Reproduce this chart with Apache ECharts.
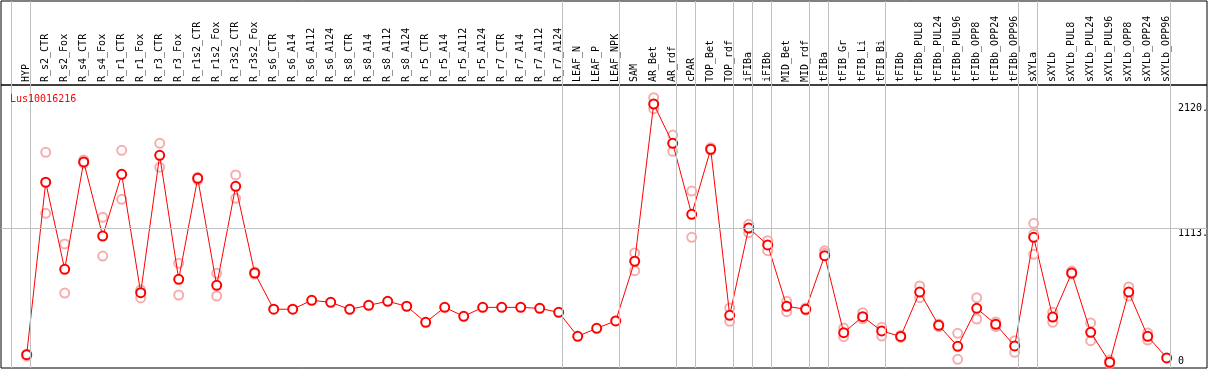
<!DOCTYPE html>
<html><head><meta charset="utf-8">
<script src="https://cdn.jsdelivr.net/npm/echarts@6/dist/echarts.min.js"></script>
<style>html,body{margin:0;padding:0;background:#fff}#c{width:1209px;height:370px}</style>
</head><body><div id="c"></div>
<script>
const geneName = 'Lus10016216';
const categories = ['HYP','R_s2_CTR','R_s2_Fox','R_s4_CTR','R_s4_Fox','R_r1_CTR','R_r1_Fox','R_r3_CTR','R_r3_Fox','R_r1s2_CTR','R_r1s2_Fox','R_r3s2_CTR','R_r3s2_Fox','R_s6_CTR','R_s6_A14','R_s6_A112','R_s6_A124','R_s8_CTR','R_s8_A14','R_s8_A112','R_s8_A124','R_r5_CTR','R_r5_A14','R_r5_A112','R_r5_A124','R_r7_CTR','R_r7_A14','R_r7_A112','R_r7_A124','LEAF_N','LEAF_P','LEAF_NPK','SAM','AR_Bet','AR_rdf','cPAR','TOP_Bet','TOP_rdf','iFIBa','iFIBb','MID_Bet','MID_rdf','tFIBa','tFIB_Gr','tFIB_Li','tFIB_Bi','tFIBb','tFIBb_PUL8','tFIBb_PUL24','tFIBb_PUL96','tFIBb_OPP8','tFIBb_OPP24','tFIBb_OPP96','sXYLa','sXYLb','sXYLb_PUL8','sXYLb_PUL24','sXYLb_PUL96','sXYLb_OPP8','sXYLb_OPP24','sXYLb_OPP96'];
const meanValues = [92,1487,783,1651,1052,1551,594,1705,702,1519,653,1454,753,460,460,532,516,459,492,524,484,354,475,403,475,475,475,467,435,241,306,365,848,2120,1802,1228,1754,411,1117,980,484,459,893,270,400,284,240,599,330,160,467,338,163,1042,397,753,273,31,599,241,66];
const replicateA = [95,1729,988,1667,1203,1745,616,1802,831,1527,750,1546,761,null,null,null,null,null,null,null,null,null,null,null,null,null,null,null,null,null,null,null,915,2171,1869,1416,1767,470,1147,1014,524,470,934,308,432,314,250,648,341,265,553,357,206,1155,435,769,349,49,640,268,null];
const replicateB = [80,1236,591,1640,890,1349,551,1608,575,1505,567,1357,745,null,null,null,null,null,null,null,null,null,null,null,null,null,null,null,null,null,null,null,772,2082,1737,1042,1748,362,1079,934,440,454,912,238,383,243,232,553,319,55,381,319,112,904,354,745,206,19,567,211,null];
const replicateC = {53: 1066};
const groupEnds = [-1,0,28,31,34,35,37,38,39,41,42,45,52,53,60];
const yTickValues = [0,1113,2120];
const yTickLabels = ['0','1113.','2120.'];
const refLineValue = 1113;

const X_MIN = -1.3526, X_MAX = 62.121;
const Y_MIN = -15.4, Y_MAX = 2273.7;
const mono = 'DejaVu Sans Mono';
const sepOffset = 0.2;

const sepLines = groupEnds.map(e => ({xAxis: e + sepOffset}));
const meanData = meanValues.map((v,i)=>[i,v]);
const repData = [];
[replicateA, replicateB].forEach(arr => arr.forEach((v,i)=>{ if (v != null) repData.push([i,v]); }));
Object.keys(replicateC).forEach(k => repData.push([+k, replicateC[k]]));

const sepStyle = {color:'#c0c0c0', width:1, type:'solid'};
const chart = echarts.init(document.getElementById('c'));
chart.setOption({
  animation:false,
  title:{text:geneName, left:5, top:89, textStyle:{color:'#ff0000', fontFamily:mono, fontSize:10, fontWeight:'normal'}},
  grid:[
    {left:1, top:1, width:1206, height:84, show:true, borderColor:'#000', borderWidth:1, containLabel:false, outerBoundsMode:'none'},
    {left:1, top:85, width:1206, height:283, show:true, borderColor:'#000', borderWidth:1, containLabel:false, outerBoundsMode:'none'}
  ],
  xAxis:[
    {type:'value', gridIndex:0, min:X_MIN, max:X_MAX, show:false},
    {type:'value', gridIndex:1, min:X_MIN, max:X_MAX, position:'top',
     axisLine:{show:false}, axisTick:{show:false}, splitLine:{show:false},
     axisLabel:{customValues:categories.map((_, i)=>i), formatter:v => categories[v] ?? '', rotate:90, margin:3,
       fontFamily:mono, fontSize:10, color:'#000', hideOverlap:false}}
  ],
  yAxis:[
    {type:'value', gridIndex:0, min:0, max:1, show:false},
    {type:'value', gridIndex:1, min:Y_MIN, max:Y_MAX, position:'right',
     axisLine:{show:false}, axisTick:{show:false}, splitLine:{show:false},
     axisLabel:{customValues:yTickValues,
       formatter:v => { const t = yTickLabels[yTickValues.indexOf(v)]; return v === 0 ? t + '\n ' : ' \n' + t; },
       margin:-29, align:'left', verticalAlign:'middle', lineHeight:9, fontFamily:mono, fontSize:10, color:'#000'}}
  ],
  series:[
    {type:'line', xAxisIndex:0, yAxisIndex:0, data:[], silent:true,
     markLine:{silent:true, symbol:['none','none'], label:{show:false}, lineStyle:sepStyle, data:sepLines}},
    {type:'line', xAxisIndex:1, yAxisIndex:1, data:[], silent:true, z:1,
     markLine:{silent:true, symbol:['none','none'], label:{show:false}, lineStyle:sepStyle, data:[...sepLines, {yAxis:refLineValue}]}},
    {type:'scatter', xAxisIndex:1, yAxisIndex:1, data:repData, symbol:'emptyCircle', symbolSize:9, z:2,
     itemStyle:{color:'#f29a9a', borderColor:'#f29a9a', borderWidth:1.2}},
    {type:'line', xAxisIndex:1, yAxisIndex:1, data:meanData, symbol:'emptyCircle', symbolSize:9, z:3,
     lineStyle:{color:'#ff0000', width:1}, itemStyle:{color:'#ff0000', borderColor:'#ff0000', borderWidth:1.5}}
  ]
});
</script></body></html>
